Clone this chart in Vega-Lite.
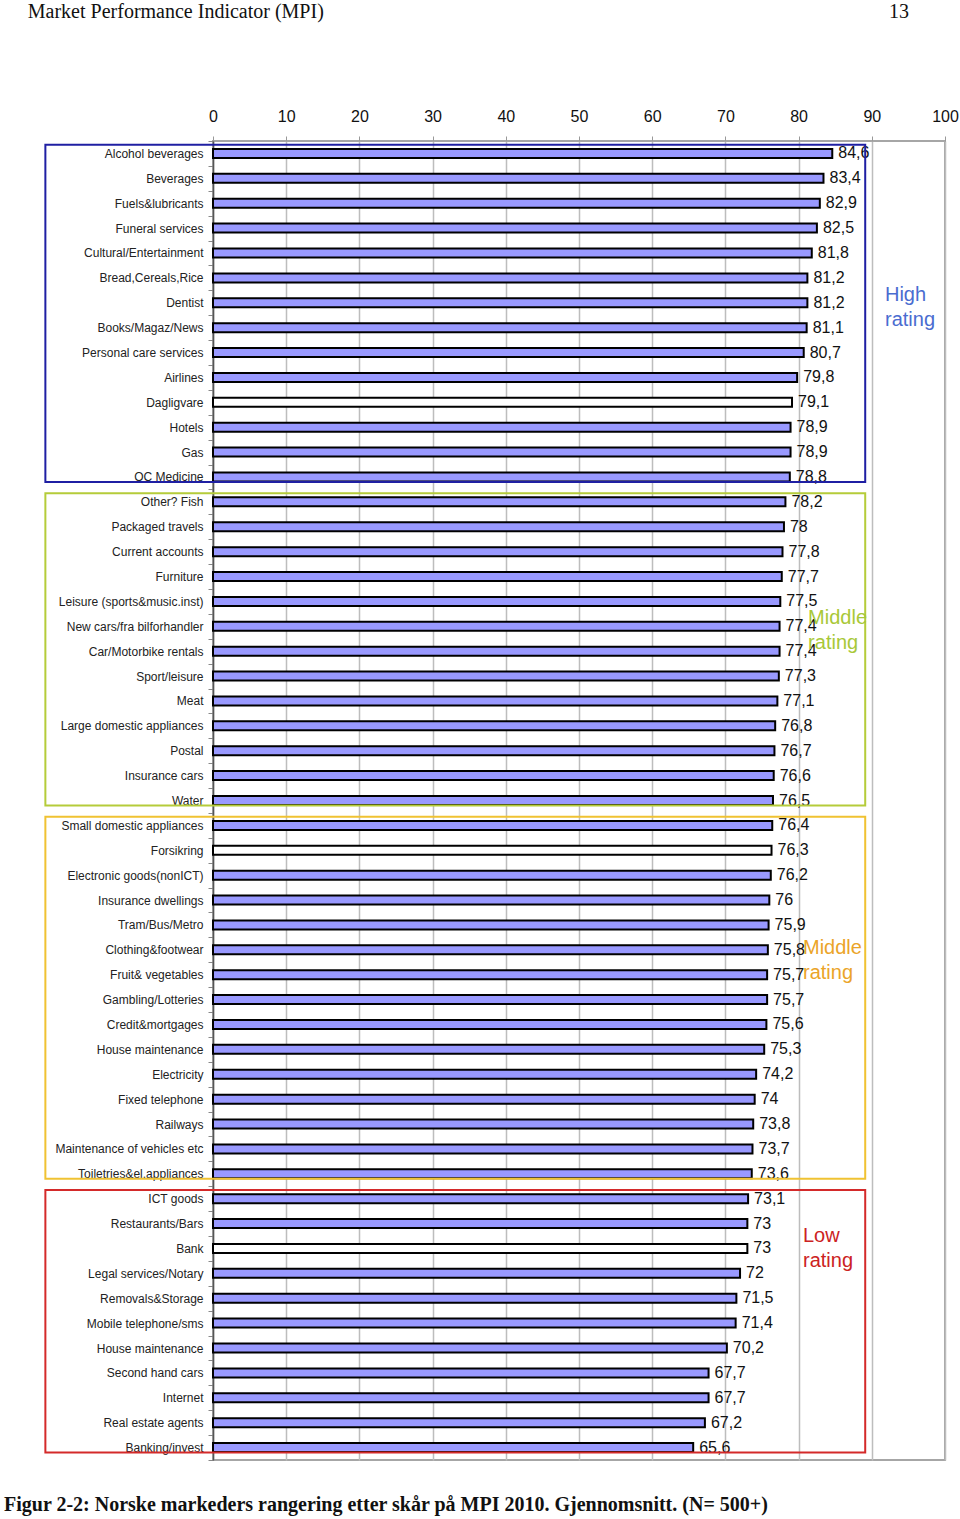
{
  "$schema": "https://vega.github.io/schema/vega-lite/v6.json",
  "autosize": "none",
  "width": 732,
  "height": 1319,
  "padding": {"left": 213, "top": 141, "right": 15, "bottom": 59},
  "background": "white",
  "config": {
    "locale": {"number": {"decimal": ",", "thousands": " ", "grouping": [3], "currency": ["", ""]}},
    "view": {"stroke": "#a6a6a6", "strokeWidth": 2},
    "font": "Liberation Sans"
  },
  "datasets": {
    "markets": [
      {"market": "Alcohol beverages", "mpi": 84.6, "kind": "market"},
      {"market": "Beverages", "mpi": 83.4, "kind": "market"},
      {"market": "Fuels&lubricants", "mpi": 82.9, "kind": "market"},
      {"market": "Funeral services", "mpi": 82.5, "kind": "market"},
      {"market": "Cultural/Entertainment\u00a0", "mpi": 81.8, "kind": "market"},
      {"market": "Bread,Cereals,Rice", "mpi": 81.2, "kind": "market"},
      {"market": "Dentist", "mpi": 81.2, "kind": "market"},
      {"market": "Books/Magaz/News", "mpi": 81.1, "kind": "market"},
      {"market": "Personal care services", "mpi": 80.7, "kind": "market"},
      {"market": "Airlines", "mpi": 79.8, "kind": "market"},
      {"market": "Dagligvare", "mpi": 79.1, "kind": "benchmark"},
      {"market": "Hotels", "mpi": 78.9, "kind": "market"},
      {"market": "Gas", "mpi": 78.9, "kind": "market"},
      {"market": "OC Medicine", "mpi": 78.8, "kind": "market"},
      {"market": "Other? Fish", "mpi": 78.2, "kind": "market"},
      {"market": "Packaged travels", "mpi": 78, "kind": "market"},
      {"market": "Current accounts\u00a0", "mpi": 77.8, "kind": "market"},
      {"market": "Furniture", "mpi": 77.7, "kind": "market"},
      {"market": "Leisure (sports&music.inst)", "mpi": 77.5, "kind": "market"},
      {"market": "New cars/fra bilforhandler", "mpi": 77.4, "kind": "market"},
      {"market": "Car/Motorbike rentals", "mpi": 77.4, "kind": "market"},
      {"market": "Sport/leisure", "mpi": 77.3, "kind": "market"},
      {"market": "Meat", "mpi": 77.1, "kind": "market"},
      {"market": "Large domestic appliances", "mpi": 76.8, "kind": "market"},
      {"market": "Postal", "mpi": 76.7, "kind": "market"},
      {"market": "Insurance cars", "mpi": 76.6, "kind": "market"},
      {"market": "Water", "mpi": 76.5, "kind": "market"},
      {"market": "Small domestic appliances", "mpi": 76.4, "kind": "market"},
      {"market": "Forsikring", "mpi": 76.3, "kind": "benchmark"},
      {"market": "Electronic goods(nonICT)", "mpi": 76.2, "kind": "market"},
      {"market": "Insurance dwellings", "mpi": 76, "kind": "market"},
      {"market": "Tram/Bus/Metro", "mpi": 75.9, "kind": "market"},
      {"market": "Clothing&footwear", "mpi": 75.8, "kind": "market"},
      {"market": "Fruit& vegetables", "mpi": 75.7, "kind": "market"},
      {"market": "Gambling/Lotteries", "mpi": 75.7, "kind": "market"},
      {"market": "Credit&mortgages", "mpi": 75.6, "kind": "market"},
      {"market": "House maintenance", "mpi": 75.3, "kind": "market"},
      {"market": "Electricity", "mpi": 74.2, "kind": "market"},
      {"market": "Fixed telephone", "mpi": 74, "kind": "market"},
      {"market": "Railways", "mpi": 73.8, "kind": "market"},
      {"market": "Maintenance of vehicles etc", "mpi": 73.7, "kind": "market"},
      {"market": "Toiletries&el.appliances", "mpi": 73.6, "kind": "market"},
      {"market": "ICT goods", "mpi": 73.1, "kind": "market"},
      {"market": "Restaurants/Bars", "mpi": 73, "kind": "market"},
      {"market": "Bank", "mpi": 73, "kind": "benchmark"},
      {"market": "Legal services/Notary", "mpi": 72, "kind": "market"},
      {"market": "Removals&Storage", "mpi": 71.5, "kind": "market"},
      {"market": "Mobile telephone/sms", "mpi": 71.4, "kind": "market"},
      {"market": "House maintenance\u200b", "mpi": 70.2, "kind": "market"},
      {"market": "Second hand cars", "mpi": 67.7, "kind": "market"},
      {"market": "Internet", "mpi": 67.7, "kind": "market"},
      {"market": "Real estate agents", "mpi": 67.2, "kind": "market"},
      {"market": "Banking/invest", "mpi": 65.6, "kind": "market"}
    ],
    "bands": [
      {"group": "High rating", "first": "Alcohol beverages", "last": "OC Medicine"},
      {"group": "Middle rating (upper)", "first": "Other? Fish", "last": "Water"},
      {"group": "Middle rating (lower)", "first": "Small domestic appliances", "last": "Toiletries&el.appliances"},
      {"group": "Low rating", "first": "ICT goods", "last": "Banking/invest"}
    ]
  },
  "layer": [
    {
      "data": {"name": "markets"},
      "mark": {"type": "bar", "height": 9, "stroke": "black", "strokeWidth": 2},
      "encoding": {
        "y": {
          "field": "market", "type": "nominal", "sort": null,
          "scale": {"paddingInner": 0, "paddingOuter": 0},
          "axis": {"title": null, "labelFontSize": 12, "labelColor": "#222", "labelPadding": 5, "tickSize": 5, "tickBand": "extent", "tickColor": "#888", "domainColor": "#555", "domainWidth": 1.5, "labelLimit": 300}
        },
        "x": {
          "field": "mpi", "type": "quantitative",
          "scale": {"domain": [0, 100], "nice": false},
          "axis": {"orient": "top", "title": null, "values": [0, 10, 20, 30, 40, 50, 60, 70, 80, 90, 100], "labelFontSize": 16, "labelColor": "#111", "labelFlush": false, "grid": true, "gridColor": "#bdbdbd", "gridWidth": 1.5, "tickSize": 5, "tickColor": "#999", "domain": false, "labelPadding": 12}
        },
        "fill": {"field": "kind", "type": "nominal", "scale": {"domain": ["market", "benchmark"], "range": ["#9999ff", "#ffffff"]}, "legend": null}
      }
    },
    {
      "data": {"name": "markets"},
      "mark": {"type": "text", "align": "left", "baseline": "middle", "dx": 6, "fontSize": 16, "color": "#111"},
      "encoding": {
        "y": {"field": "market", "type": "nominal", "sort": null},
        "x": {"field": "mpi", "type": "quantitative"},
        "text": {"field": "mpi", "type": "quantitative", "format": ".3~r"}
      }
    },
    {
      "data": {"name": "bands"},
      "mark": {"type": "rect", "filled": false, "strokeWidth": 2},
      "encoding": {
        "y": {"field": "first", "type": "nominal", "sort": null, "bandPosition": 0.15},
        "y2": {"field": "last", "bandPosition": 0.7},
        "x": {"datum": -22.9, "type": "quantitative"},
        "x2": {"datum": 89.1},
        "stroke": {"field": "group", "type": "nominal", "scale": {"domain": ["High rating", "Middle rating (upper)", "Middle rating (lower)", "Low rating"], "range": ["#1f1fa3", "#b5cc3a", "#f0c232", "#d42a2a"]}, "legend": null}
      }
    },
    {
      "data": {"values": [{}]},
      "mark": {"type": "text", "text": ["High", "rating"], "align": "left", "baseline": "middle", "fontSize": 20, "lineHeight": 25, "color": "#4a6cd0"},
      "encoding": {"x": {"datum": 91.8, "type": "quantitative"}, "y": {"datum": "Dentist", "type": "nominal", "bandPosition": 0.19}}
    },
    {
      "data": {"values": [{}]},
      "mark": {"type": "text", "text": ["Middle", "rating"], "align": "left", "baseline": "middle", "fontSize": 20, "lineHeight": 25, "color": "#a8c838"},
      "encoding": {"x": {"datum": 81.3, "type": "quantitative"}, "y": {"datum": "New cars/fra bilforhandler", "type": "nominal", "bandPosition": 0.16}}
    },
    {
      "data": {"values": [{}]},
      "mark": {"type": "text", "text": ["Middle", "rating"], "align": "left", "baseline": "middle", "fontSize": 20, "lineHeight": 25, "color": "#eba428"},
      "encoding": {"x": {"datum": 80.6, "type": "quantitative"}, "y": {"datum": "Clothing&footwear", "type": "nominal", "bandPosition": 0.41}}
    },
    {
      "data": {"values": [{}]},
      "mark": {"type": "text", "text": ["Low", "rating"], "align": "left", "baseline": "middle", "fontSize": 20, "lineHeight": 25, "color": "#cc2222"},
      "encoding": {"x": {"datum": 80.6, "type": "quantitative"}, "y": {"datum": "Bank", "type": "nominal", "bandPosition": 0.01}}
    },
    {
      "data": {"values": [{}]},
      "mark": {"type": "text", "text": "Market Performance Indicator (MPI)", "align": "left", "baseline": "middle", "font": "Liberation Serif", "fontSize": 20, "color": "#111"},
      "encoding": {"x": {"datum": -25.3, "type": "quantitative"}, "y": {"datum": "Alcohol beverages", "type": "nominal", "bandPosition": -5.2}}
    },
    {
      "data": {"values": [{}]},
      "mark": {"type": "text", "text": "13", "align": "left", "baseline": "middle", "font": "Liberation Serif", "fontSize": 20, "color": "#111"},
      "encoding": {"x": {"datum": 92.35, "type": "quantitative"}, "y": {"datum": "Alcohol beverages", "type": "nominal", "bandPosition": -5.2}}
    },
    {
      "data": {"values": [{}]},
      "mark": {"type": "text", "text": "Figur 2-2: Norske markeders rangering etter skår på MPI 2010. Gjennomsnitt. (N= 500+)", "align": "left", "baseline": "middle", "font": "Liberation Serif", "fontWeight": "bold", "fontSize": 20, "color": "#111"},
      "encoding": {"x": {"datum": -28.55, "type": "quantitative"}, "y": {"datum": "Banking/invest", "type": "nominal", "bandPosition": 2.81}}
    }
  ]
}
